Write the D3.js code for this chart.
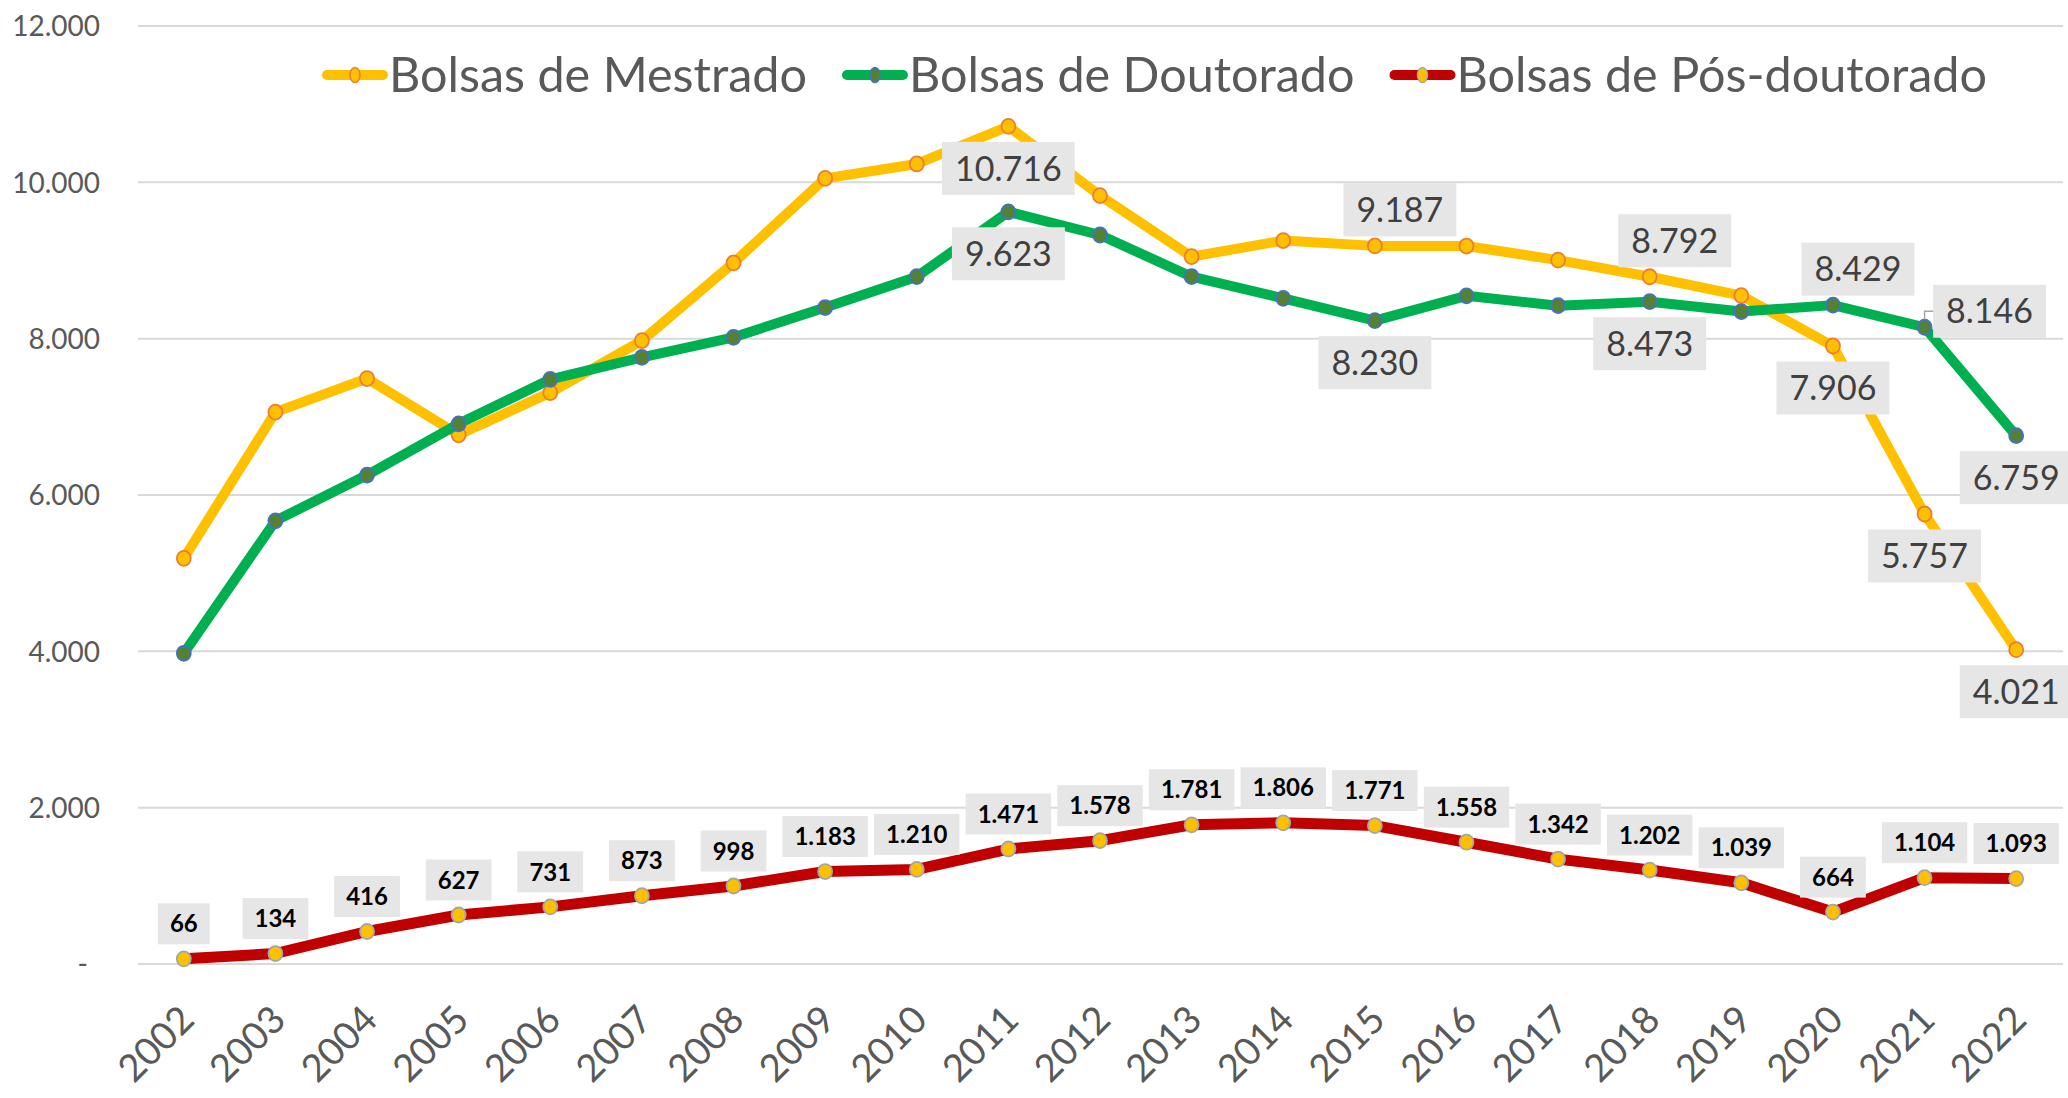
<!DOCTYPE html>
<html>
<head>
<meta charset="utf-8">
<script src="https://cdn.jsdelivr.net/npm/d3@7"></script>
<style>
  body { margin: 0; background: #fff; }
  svg { display: block; font-family: Lato, "Open Sans", sans-serif; }
</style>
</head>
<body>
<svg id="chart" width="2068" height="1098"></svg>
<script>
const years = ['2002','2003','2004','2005','2006','2007','2008','2009','2010','2011','2012',
  '2013','2014','2015','2016','2017','2018','2019','2020','2021','2022'];
const mestrado = [5190, 7060, 7490, 6770, 7310, 7975, 8970, 10050, 10235, 10716, 9830,
  9050, 9255, 9187, 9185, 9005, 8792, 8550, 7906, 5757, 4021];
const doutorado = [3975, 5670, 6255, 6910, 7480, 7760, 8017, 8398, 8793, 9623, 9326,
  8793, 8516, 8230, 8548, 8422, 8473, 8347, 8429, 8146, 6759];
const posDoutorado = [66, 134, 416, 627, 731, 873, 998, 1183, 1210, 1471, 1578,
  1781, 1806, 1771, 1558, 1342, 1202, 1039, 664, 1104, 1093];
const seriesNames = ['Bolsas de Mestrado', 'Bolsas de Doutorado', 'Bolsas de Pós-doutorado'];
const yTicks = [0, 2000, 4000, 6000, 8000, 10000, 12000];

// which points carry a label, and where it sits (below / above / right)
const labelsMestrado = {'2011':'below', '2015':'aboveRight', '2018':'aboveRight',
  '2020':'below', '2021':'below', '2022':'below'};
const labelsDoutorado = {'2011':'below', '2015':'below', '2018':'below',
  '2020':'aboveRight', '2021':'right', '2022':'below'};

let svg = d3.select('#chart');

let br = d3.formatLocale({decimal: ',', thousands: '.', grouping: [3], currency: ['R$', '']});
let fmt = v => v === 0 ? '-' : br.format(',d')(v);

let sx = d3.scalePoint().domain(years).range([138, 2062]).padding(0.5);
let sy = d3.scaleLinear().domain([0, 12000]).range([964, 26]);

// gridlines
svg.append('g')
  .selectAll('line')
  .data(yTicks)
  .enter()
  .append('line')
  .attr('x1', 138).attr('x2', 2063)
  .attr('y1', d => sy(d)).attr('y2', d => sy(d))
  .attr('stroke', '#d9d9d9')
  .attr('stroke-width', 2);

// y axis labels
let yAxis = svg.append('g')
  .attr('transform', 'translate(100,0)')
  .call(d3.axisLeft(sy).tickValues(yTicks).tickFormat(fmt).tickSize(0).tickPadding(0));
yAxis.select('.domain').remove();
yAxis.selectAll('text')
  .attr('font-family', 'Lato')
  .attr('font-size', 28)
  .attr('fill', '#595959')
  .attr('dy', '0.35em');
yAxis.selectAll('text').filter(d => d === 0).attr('x', -12);

// x axis labels
let xAxis = svg.append('g')
  .attr('transform', 'translate(0,1022)')
  .call(d3.axisBottom(sx).tickSize(0).tickPadding(0));
xAxis.select('.domain').remove();
xAxis.selectAll('text')
  .attr('font-family', 'Lato')
  .attr('font-size', 38)
  .attr('fill', '#595959')
  .attr('text-anchor', 'end')
  .attr('dy', 0)
  .attr('y', 0)
  .attr('transform', 'translate(12,0) rotate(-45)');

const series = [
  {name: seriesNames[0], values: mestrado, line: '#FFC000', fill: '#FFC000', stroke: '#ED7D31', w: 10},
  {name: seriesNames[1], values: doutorado, line: '#00B050', fill: '#548235', stroke: '#4472C4', w: 10},
  {name: seriesNames[2], values: posDoutorado, line: '#C00000', fill: '#FFC000', stroke: '#A5A5A5', w: 11}
];

let line = d3.line()
  .x((d, i) => sx(years[i]))
  .y(d => sy(d));

series.forEach(s => {
  let g = svg.append('g');
  g.append('path')
    .attr('d', line(s.values))
    .attr('fill', 'none')
    .attr('stroke', s.line)
    .attr('stroke-width', s.w)
    .attr('stroke-linejoin', 'round');
  g.selectAll('ellipse')
    .data(s.values)
    .enter()
    .append('ellipse')
    .attr('cx', (d, i) => sx(years[i]))
    .attr('cy', d => sy(d))
    .attr('rx', 7).attr('ry', 7.5)
    .attr('fill', s.fill)
    .attr('stroke', s.stroke)
    .attr('stroke-width', 1.8);
});

// data labels with grey boxes
let labelLayer = svg.append('g');

function boxLabel(cx, cy, text, opt) {
  let g = labelLayer.append('g');
  let t = g.append('text')
    .attr('x', cx).attr('y', cy)
    .attr('text-anchor', 'middle')
    .attr('dy', '0.36em')
    .attr('font-family', 'Lato')
    .attr('font-size', opt.size)
    .attr('font-weight', opt.weight)
    .attr('fill', opt.color)
    .text(text);
  let tw = t.node().getComputedTextLength();
  g.insert('rect', 'text')
    .attr('x', cx - tw / 2 - opt.padX)
    .attr('y', cy - opt.h / 2)
    .attr('width', tw + 2 * opt.padX)
    .attr('height', opt.h)
    .attr('fill', '#E7E6E6');
}

const bigOpt = {size: 34, weight: 400, color: '#404040', padX: 13, h: 53};
const smallOpt = {size: 24, weight: 700, color: '#000000', padX: 12, h: 41};

function placeLabels(values, spec) {
  years.forEach((yr, i) => {
    let pos = spec[yr];
    if (!pos) return;
    let px = sx(yr), py = sy(values[i]);
    let cx = px, cy = py;
    if (pos === 'below') { cy = py + 42; }
    else if (pos === 'aboveRight') { cx = px + 25; cy = py - 36; }
    else if (pos === 'right') {
      cx = px + 65; cy = py - 16;
      labelLayer.append('path')
        .attr('d', `M${px},${py - 8}V${cy}H${px + 14}`)
        .attr('fill', 'none')
        .attr('stroke', '#A6A6A6')
        .attr('stroke-width', 1.5);
    }
    boxLabel(cx, cy, fmt(values[i]), bigOpt);
  });
}

placeLabels(mestrado, labelsMestrado);
placeLabels(doutorado, labelsDoutorado);

posDoutorado.forEach((v, i) => {
  boxLabel(sx(years[i]), sy(v) - 35, fmt(v), smallOpt);
});

// legend
let legend = svg.append('g').attr('transform', 'translate(325,75)');
let lx = 0;
series.forEach(s => {
  let item = legend.append('g').attr('transform', `translate(${lx},0)`);
  item.append('line')
    .attr('x1', 2).attr('x2', 58)
    .attr('stroke', s.line)
    .attr('stroke-width', 10)
    .attr('stroke-linecap', 'round');
  item.append('ellipse')
    .attr('cx', 30).attr('rx', 5).attr('ry', 7.5)
    .attr('fill', s.fill)
    .attr('stroke', s.stroke)
    .attr('stroke-width', 1.5);
  let t = item.append('text')
    .attr('x', 64)
    .attr('dy', '0.36em')
    .attr('font-family', 'Lato')
    .attr('font-size', 48.5)
    .attr('fill', '#595959')
    .text(s.name);
  lx += 64 + t.node().getComputedTextLength() + 38;
});
</script>
</body>
</html>
